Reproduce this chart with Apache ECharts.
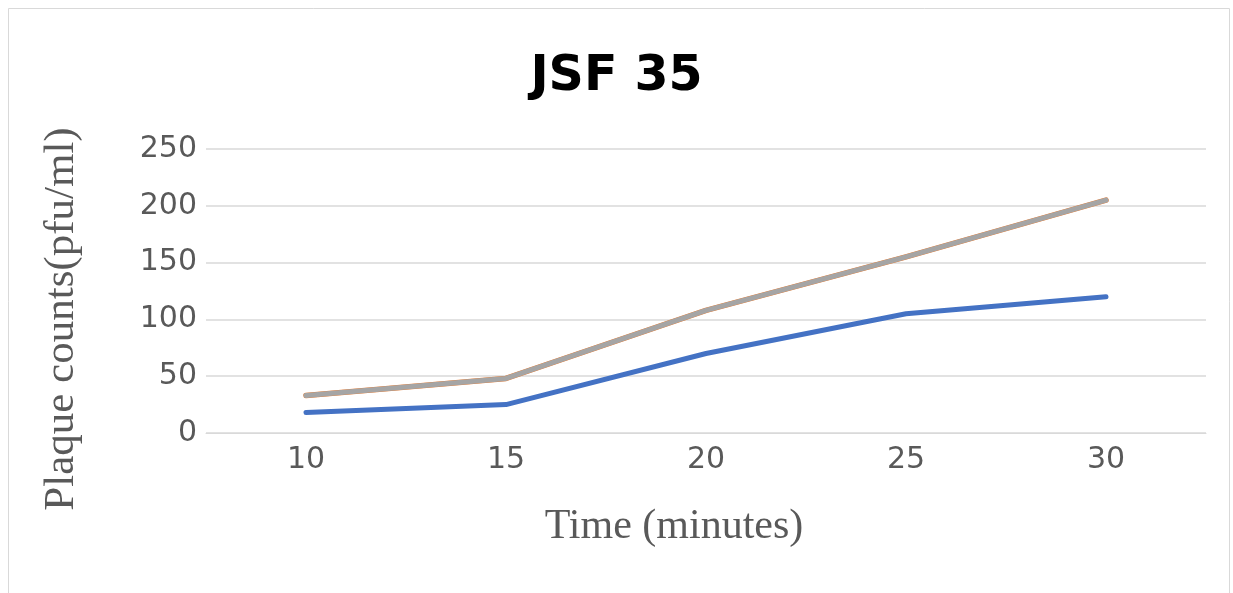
<!DOCTYPE html>
<html>
<head>
<meta charset="utf-8">
<script src="https://cdn.jsdelivr.net/npm/echarts@6/dist/echarts.min.js"></script>
<style>html,body{margin:0;padding:0;background:#fff}#c{width:1233px;height:593px}</style>
</head>
<body>
<div id="c"></div>
<script>
const categories = ['10', '15', '20', '25', '30'];
const series1 = [18, 25, 70, 105, 120];
const series2 = [33, 48, 108, 155, 205];
const series3 = [33, 48, 108, 155, 205];
const yTicks = [0, 50, 100, 150, 200, 250];

const chart = echarts.init(document.getElementById('c'));
chart.setOption({
  animation: false,
  backgroundColor: '#fff',
  title: {
    text: 'JSF 35', left: 'center', top: 48,
    textStyle: { fontFamily: 'DejaVu Sans', fontWeight: 'bold', fontSize: 49, color: '#000' }
  },
  graphic: [
    { type: 'rect', shape: { x: 8.5, y: 8.5, width: 1221, height: 600 }, style: { fill: 'none', stroke: '#d9d9d9', lineWidth: 1 }, silent: true },
    { type: 'text', x: 674, y: 527, style: { text: 'Time (minutes)', font: '42px "Liberation Serif"', fill: '#595959', textAlign: 'center', textVerticalAlign: 'middle' } },
    { type: 'text', x: 62, y: 319, rotation: Math.PI / 2, style: { text: 'Plaque counts(pfu/ml)', font: '43px "Liberation Serif"', fill: '#595959', textAlign: 'center', textVerticalAlign: 'middle' } }
  ],
  grid: { left: 206, right: 27, top: 149, bottom: 160, containLabel: false },
  xAxis: {
    type: 'category', data: categories, boundaryGap: true,
    axisLine: { lineStyle: { color: '#d9d9d9', width: 1 } },
    axisTick: { show: false },
    axisLabel: { color: '#595959', fontFamily: 'DejaVu Sans', fontSize: 30, margin: 12 }
  },
  yAxis: {
    type: 'value', min: 0, max: 250, interval: 50,
    axisLine: { show: false }, axisTick: { show: false },
    axisLabel: { color: '#595959', fontFamily: 'DejaVu Sans', fontSize: 30, margin: 9,
      formatter: v => yTicks.includes(v) ? String(v) : '' },
    splitLine: { lineStyle: { color: '#d9d9d9', width: 1.5 } }
  },
  series: [
    { name: 'Series1', type: 'line', data: series1, symbol: 'none', lineStyle: { color: '#4472C4', width: 5, cap: 'round', join: 'round' } },
    { name: 'Series2', type: 'line', data: series2, symbol: 'none', lineStyle: { color: '#ED7D31', width: 5.5, cap: 'round', join: 'round' } },
    { name: 'Series3', type: 'line', data: series3, symbol: 'none', lineStyle: { color: '#A5A5A5', width: 5, cap: 'round', join: 'round' } }
  ]
});
</script>
</body>
</html>
